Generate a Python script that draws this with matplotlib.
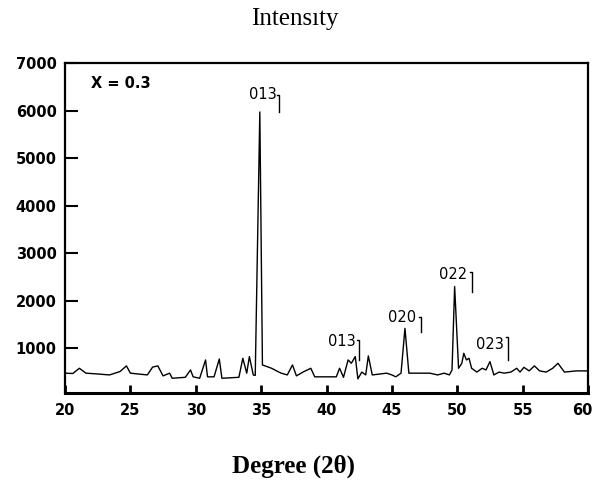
import matplotlib
matplotlib.use("Agg")
from matplotlib import pyplot as plt
from matplotlib import transforms

# XRD pattern
degree = [20.0, 20.6, 21.1, 21.6, 22.5, 23.4, 24.2, 24.7, 25.0, 26.3, 26.7, 27.1, 27.5, 28.0,
          28.2, 29.2, 29.6, 29.8, 30.3, 30.75, 30.9, 31.4, 31.8, 32.0, 33.3, 33.6, 33.9, 34.1,
          34.4, 34.55, 34.9, 35.1, 35.8, 36.5, 37.0, 37.4, 37.7, 38.2, 38.8, 39.1, 40.75, 41.0,
          41.3, 41.65, 41.9, 42.2, 42.4, 42.7, 43.0, 43.2, 43.5, 44.6, 45.0, 45.3, 45.7, 46.0,
          46.3, 47.9, 48.5, 49.0, 49.4, 49.6, 49.8, 50.1, 50.35, 50.5, 50.7, 50.9, 51.1, 51.5,
          51.9, 52.2, 52.5, 52.8, 53.2, 53.6, 54.1, 54.55, 54.8, 55.1, 55.5, 55.9, 56.3, 56.8,
          57.3, 57.7, 58.2, 59.1, 60.0]
intensity = [477, 470, 580, 477, 460, 440, 510, 630, 477, 440, 605, 630, 420, 477,
             370, 390, 545, 400, 370, 755, 400, 400, 775, 370, 390, 790, 477, 826,
             440, 430, 5970, 650, 580, 480, 440, 650, 420, 500, 580, 400, 400, 580,
             390, 755, 685, 826, 357, 500, 440, 840, 440, 477, 440, 400, 477, 1420,
             477, 477, 440, 477, 440, 545, 2300, 580, 685, 895, 755, 790, 580, 500,
             580, 545, 720, 440, 500, 477, 500, 580, 500, 600, 525, 630, 525, 500,
             580, 685, 500, 525, 525]

x_ticks = [20, 25, 30, 35, 40, 45, 50, 55, 60]
y_ticks = [1000, 2000, 3000, 4000, 5000, 6000, 7000]

# peak labels: text, text x, text y, bracket x, bracket top, bracket bottom
peak_labels = [
    ("013", 35.1, 6330, 36.4, 6330, 5970),
    ("013", 41.2, 1140, 42.5, 1180, 760),
    ("020", 45.8, 1640, 47.2, 1660, 1340),
    ("022", 49.7, 2560, 51.1, 2600, 2180),
    ("023", 52.5, 1090, 53.9, 1240, 760),
]

fig = plt.figure(figsize=(5.95, 4.83), dpi=100)
ax = fig.add_axes([65 / 595, 90 / 483, 523 / 595, 330 / 483])

ax.plot(degree, intensity, color="black", lw=1.0)

for text, tx, ty, bx, btop, bbot in peak_labels:
    ax.text(tx, ty, text, ha="center", va="center", fontsize=10.5,
            family="DejaVu Sans")
    ax.plot([bx - 0.15, bx, bx], [btop, btop, bbot], color="black", lw=1.0)

ax.text(22.0, 6560, "X = 0.3", ha="left", va="center", fontsize=10.5,
        fontweight="bold", family="DejaVu Sans")

ax.set_xlim(20, 60)
ax.set_ylim(60, 7000)
ax.set_xticks(x_ticks)
ax.set_yticks(y_ticks)
ax.tick_params(axis="x", direction="in", length=6, width=2, pad=7, labelsize=10.5)
ax.tick_params(axis="y", direction="in", length=9, width=1.5, pad=6, labelsize=10.5)
for lab in ax.get_xticklabels() + ax.get_yticklabels():
    lab.set_fontweight("bold")

# last x label sits at the figure edge, nudge it in
last = ax.get_xticklabels()[-1]
last.set_transform(last.get_transform() +
                   transforms.ScaledTranslation(-6 / 100, 0, fig.dpi_scale_trans))

for side in ["left", "top", "right"]:
    ax.spines[side].set_linewidth(1.6)
ax.spines["bottom"].set_linewidth(2.2)

fig.text(295 / 595, 1 - 25 / 483, "Intensıty", ha="center", va="baseline",
         fontsize=18, family="Liberation Serif")
fig.text(294 / 595, 1 - 473 / 483, "Degree (2θ)", ha="center", va="baseline",
         fontsize=18, fontweight="bold", family="Liberation Serif")

fig.savefig("out.png", dpi=100)
